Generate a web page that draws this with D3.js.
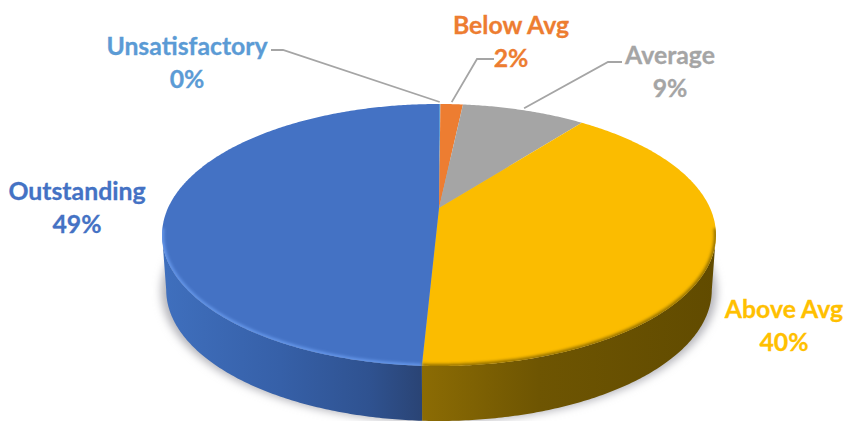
<!DOCTYPE html>
<html lang="en">
<head>
<meta charset="UTF-8">
<title>Rating pie</title>
<script src="https://d3js.org/d3.v7.min.js"></script>
<style>
  body { margin: 0; background: #fff; }
  text { font-family: Lato, "Open Sans", sans-serif; font-weight: 700; font-size: 24.8px; text-anchor: middle; dominant-baseline: central; stroke-width: 0.3px; }
  .leader { fill: none; stroke: #a5a5a5; stroke-width: 1.8px; }
</style>
</head>
<body>
<script>
var categories = ["Unsatisfactory", "Below Avg", "Average", "Above Avg", "Outstanding"];
var values = [0.1, 1.6, 8.8, 40.3, 49.2];
var percentLabels = ["0%", "2%", "9%", "40%", "49%"];
var sliceColors = ["#5b9bd5", "#ed7d31", "#a5a5a5", "#fbbc00", "#4472c4"];
var labelColors = ["#5b9bd5", "#ed7d31", "#a5a5a5", "#ffc000", "#4472c4"];

var width = 847, height = 421;

// label centres and leader elbows, by category
var labelPos = [[187, 45], [511, 24], [670, 54], [784, 308], [77, 190]];
var leaderStart = [[271, 50], [494, 59], [622, 62], null, null];
var leaderElbow = [[283, 50], [477, 59], [608, 62], null, null];

// the pie is a tilted circle seen in perspective, so the apex sits above the ellipse centre
var cx = 439, apexY = 208, k = 0.206, rimY = -82.6, rimX = 271;
var depth = 55, bottomScale = 0.985;

function project(a, drop) {
  var u = Math.sin(a), v = Math.cos(a), w = 1 + k * v;
  var s = drop ? bottomScale : 1;
  return [cx + s * rimX * u / w, (apexY + rimY * v) / w + (drop || 0)];
}

function arcPoints(a0, a1, drop) {
  var n = Math.max(2, Math.ceil((a1 - a0) / 0.01));
  return d3.range(n + 1).map(function(i) { return project(a0 + (a1 - a0) * i / n, drop); });
}

var line = d3.line();
var pie = d3.pie().sort(null).value(function(d) { return d; });
var slices = pie(values);

var svg = d3.select("body").append("svg").attr("width", width).attr("height", height).style("display", "block");
var defs = svg.append("defs");

defs.append("filter").attr("id", "soft").attr("x", "-10%").attr("y", "-10%").attr("width", "120%").attr("height", "120%")
    .append("feGaussianBlur").attr("stdDeviation", 4);
defs.append("filter").attr("id", "bevel").attr("x", "-10%").attr("y", "-10%").attr("width", "120%").attr("height", "120%")
    .append("feGaussianBlur").attr("stdDeviation", 1.5);

function sideGradient(id, x0, x1, stops) {
  var g = defs.append("linearGradient").attr("id", id).attr("gradientUnits", "userSpaceOnUse")
              .attr("x1", x0).attr("x2", x1).attr("y1", 0).attr("y2", 0);
  stops.forEach(function(s) { g.append("stop").attr("offset", s[0]).attr("stop-color", s[1]); });
}
sideGradient("sideBlue", 165, 421, [[0, "#3f6fbd"], [0.45, "#3660a8"], [0.8, "#2f5290"], [1, "#2a4475"]]);
sideGradient("sideGold", 421, 716, [[0, "#8c6c04"], [0.4, "#6e5502"], [1, "#614b00"]]);

var sideStart = Math.acos(-k), sideEnd = 2 * Math.PI - sideStart;

// soft shadow under the disc
var shadowPts = arcPoints(0, 2 * Math.PI, depth + 1).map(function(p) { return [cx + (p[0] - cx) * 1.018, p[1]]; });
svg.append("path").attr("d", line(shadowPts) + "Z").attr("fill", "#b4b4ba").attr("filter", "url(#soft)");

// side wall
var sideFill = { 3: "url(#sideGold)", 4: "url(#sideBlue)" };
slices.forEach(function(d, i) {
  var a0 = Math.max(d.startAngle, sideStart), a1 = Math.min(d.endAngle, sideEnd);
  if (a1 <= a0) return;
  var pts = arcPoints(a0, a1, 0).concat(arcPoints(a0, a1, depth).reverse());
  svg.append("path").attr("d", line(pts) + "Z").attr("fill", sideFill[i]);
});

// top face
defs.append("clipPath").attr("id", "face").append("path").attr("d", line(arcPoints(0, 2 * Math.PI, 0)) + "Z");
slices.forEach(function(d, i) {
  var pts = [[cx, apexY]].concat(arcPoints(d.startAngle, d.endAngle, 0));
  svg.append("path").attr("d", line(pts) + "Z").attr("fill", sliceColors[i]);
});

// rim bevel along the near edge
var rimGroup = svg.append("g").attr("clip-path", "url(#face)");
var rimColor = { 3: "#8f6d00", 4: "#6597ea" };
slices.forEach(function(d, i) {
  if (!rimColor[i]) return;
  var a0 = Math.max(d.startAngle, sideStart - 0.05), a1 = Math.min(d.endAngle, sideEnd + 0.05);
  rimGroup.append("path").attr("d", line(arcPoints(a0, a1, 0))).attr("fill", "none")
          .attr("stroke", rimColor[i]).attr("stroke-width", 4).attr("filter", "url(#bevel)");
});

// leader lines
slices.forEach(function(d, i) {
  if (!leaderStart[i]) return;
  var end = project((d.startAngle + d.endAngle) / 2, 0);
  svg.append("path").attr("class", "leader")
     .attr("d", line([leaderStart[i], leaderElbow[i], [end[0], end[1] - 2]]));
});

// labels
categories.forEach(function(c, i) {
  svg.append("text").attr("x", labelPos[i][0]).attr("y", labelPos[i][1]).attr("fill", labelColors[i]).attr("stroke", labelColors[i]).text(c);
  svg.append("text").attr("x", labelPos[i][0]).attr("y", labelPos[i][1] + 33).attr("fill", labelColors[i]).attr("stroke", labelColors[i]).text(percentLabels[i]);
});
</script>
</body>
</html>
